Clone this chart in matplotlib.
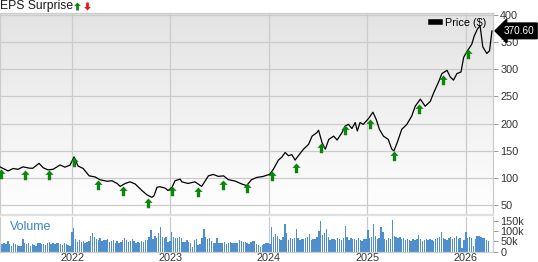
import numpy as np
import pandas as pd
import matplotlib
matplotlib.use("Agg")
import matplotlib.pyplot as plt
import matplotlib.dates as mdates
from matplotlib.colors import LinearSegmentedColormap
from matplotlib.lines import Line2D
from matplotlib.path import Path
from matplotlib.transforms import blended_transform_factory

plt.rcParams['font.family'] = ['Liberation Sans', 'DejaVu Sans']

# price line
price_dates = [
    "2021-04-08", "2021-05-08", "2021-05-27", "2021-06-14", "2021-07-02", "2021-07-28",
    "2021-08-08", "2021-08-31", "2021-09-15", "2021-10-03", "2021-10-22", "2021-11-17",
    "2021-12-05", "2021-12-24", "2022-01-08", "2022-01-23", "2022-02-11", "2022-03-05",
    "2022-03-27", "2022-04-15", "2022-05-11", "2022-05-29", "2022-06-17", "2022-06-28",
    "2022-07-17", "2022-08-04", "2022-08-23", "2022-09-17", "2022-10-06", "2022-10-24",
    "2022-11-01", "2022-11-12", "2022-11-23", "2022-12-12", "2022-12-23", "2023-01-07",
    "2023-01-18", "2023-02-06", "2023-02-12", "2023-03-07", "2023-04-02", "2023-04-27",
    "2023-05-22", "2023-06-09", "2023-06-28", "2023-07-17", "2023-08-04", "2023-08-29",
    "2023-09-23", "2023-10-11", "2023-10-29", "2023-11-17", "2023-12-12", "2024-01-05",
    "2024-01-18", "2024-02-06", "2024-02-18", "2024-03-02", "2024-03-14", "2024-03-27",
    "2024-04-08", "2024-04-20", "2024-05-09", "2024-05-28", "2024-06-10", "2024-06-28",
    "2024-07-04", "2024-07-17", "2024-07-29", "2024-08-11", "2024-08-29", "2024-09-11",
    "2024-09-29", "2024-10-11", "2024-10-23", "2024-11-05", "2024-11-17", "2024-11-25",
    "2024-12-05", "2024-12-17", "2025-01-05", "2025-01-22", "2025-02-03", "2025-02-15",
    "2025-03-02", "2025-03-20", "2025-04-02", "2025-04-10", "2025-04-22", "2025-05-09",
    "2025-05-28", "2025-06-15", "2025-06-28", "2025-07-17", "2025-08-04", "2025-08-23",
    "2025-09-04", "2025-09-23", "2025-10-05", "2025-10-24", "2025-11-05", "2025-11-17",
    "2025-11-30", "2025-12-15", "2025-12-25", "2026-01-08", "2026-01-24", "2026-02-02",
    "2026-02-14", "2026-02-24", "2026-03-06", "2026-03-21", "2026-03-31", "2026-04-09",
]
price_vals = [
    120.5, 113, 117.5, 116, 120.5, 118,
    118, 127, 119, 115, 116, 124,
    120, 123.6, 139, 122, 117.5, 104,
    102, 96.7, 94, 95, 90, 84.6,
    90, 93, 89, 77, 69, 64.5,
    67.4, 83, 84, 81.5, 77, 83,
    95, 98, 93, 90, 93, 84.6,
    104, 106.6, 103, 104, 97, 94.4,
    89, 86, 97, 101, 103, 107,
    116, 133, 138, 147, 141, 143,
    133, 141, 153, 162, 177, 183.5,
    188, 165, 153, 171, 177, 170,
    183.5, 195.6, 198.7, 191, 202, 186.5,
    202, 198.7, 209, 221, 208, 189.5,
    177, 171, 153, 150, 165, 189.5,
    198.7, 214, 232, 245, 232, 241,
    256, 277, 292, 298, 286, 280,
    292, 295, 322, 334, 346, 361,
    374, 380, 341, 329, 334, 370.6,
]
last_price = 370.60

# quarterly EPS beats (green up arrows), tip value
eps_dates = [
    "2021-04-12", "2021-07-10", "2021-10-07", "2022-01-08", "2022-04-07",
    "2022-07-08", "2022-10-10", "2023-01-07", "2023-04-13", "2023-07-15",
    "2023-10-12", "2024-01-13", "2024-04-12", "2024-07-14", "2024-10-11",
    "2025-01-12", "2025-04-10", "2025-07-13", "2025-10-10", "2026-01-11",
]
eps_tip = [117, 114, 114, 139, 97, 85, 63, 86, 84, 97,
           90, 113, 127, 164, 198, 209, 150, 236, 290, 337]

# weekly volume (thousands)
vol_2021 = [40, 35, 42, 38, 50, 36, 30, 44, 38, 34, 30, 28, 62, 40, 36, 42, 30, 38, 34,
            30, 44, 40, 36, 38, 32, 40, 46, 38, 42, 36, 44, 40, 36, 34, 42, 38, 32, 30]
vol_2022 = [95, 115, 60, 48, 55, 45, 50, 40, 45, 52, 78, 92, 70, 62, 55, 66, 50, 58, 56,
            60, 48, 52, 58, 44, 52, 40, 48, 55, 66, 58, 46, 52, 60, 50, 42, 48, 40, 52,
            46, 55, 58, 72, 105, 60, 75, 65, 90, 120, 70, 68, 72, 48]
vol_2023 = [50, 95, 72, 68, 64, 70, 66, 46, 45, 58, 45, 40, 25, 55, 60, 32, 35, 66, 112,
            70, 60, 68, 50, 44, 42, 66, 40, 42, 42, 45, 38, 42, 46, 40, 44, 42, 44, 55,
            50, 48, 48, 40, 36, 46, 54, 52, 38, 34, 25, 32, 36, 40]
vol_2024 = [40, 38, 118, 72, 86, 74, 60, 58, 70, 134, 92, 56, 66, 60, 64, 110, 68, 58,
            60, 62, 66, 70, 88, 57, 62, 60, 72, 99, 147, 80, 92, 112, 70, 55, 60, 62, 58,
            66, 60, 56, 64, 125, 70, 58, 66, 62, 60, 56, 64, 58, 54, 60]
vol_2025 = [60, 104, 66, 70, 136, 78, 60, 64, 118, 96, 62, 58, 64, 60, 152, 76, 72, 68,
            70, 62, 66, 56, 60, 58, 54, 62, 58, 60, 80, 62, 54, 58, 60, 56, 62, 58, 54,
            60, 64, 70, 97, 66, 62, 58, 64, 70, 62, 66, 74, 60, 64, 18]
vol_2026 = [58, 96, 66, 70, 64, 30, 60, 74, 76, 72, 68, 64, 58, 50]
volume = vol_2021 + vol_2022 + vol_2023 + vol_2024 + vol_2025 + vol_2026
vol_dates = pd.date_range("2021-04-09", periods=len(volume), freq="7D")

years = ["2022", "2023", "2024", "2025", "2026"]

px = pd.to_datetime(price_dates)
ex = pd.to_datetime(eps_dates)
year_ticks = pd.to_datetime([y + "-01-01" for y in years])
x0, x1 = pd.Timestamp("2021-04-08"), pd.Timestamp("2026-04-11")

grid_c = "#cbcbcb"
text_c = "#333333"

fig = plt.figure(figsize=(5.38, 2.62), dpi=100)
W, H = 538.0, 262.0
ax = fig.add_axes([0, (H - 215) / H, 492.5 / W, (215 - 12.7) / H])
axv = fig.add_axes([0, (H - 251.7) / H, 492.5 / W, (251.7 - 217) / H])

# grey-to-white background
grad = LinearSegmentedColormap.from_list("bg", ["#ffffff", "#e3e3e3"])
ax.imshow(np.linspace(0, 1, 256).reshape(-1, 1), cmap=grad, origin="lower",
          extent=[0, 1, 0, 1], transform=ax.transAxes, aspect="auto", zorder=0)

ax.plot(px, price_vals, color="black", lw=0.9, zorder=3)

# arrow marker with its tip at the origin
up = Path([(0, 0), (0.42, -0.45), (0.17, -0.45), (0.17, -1), (-0.17, -1),
           (-0.17, -0.45), (-0.42, -0.45), (0, 0)])
down = Path([(x, -y) for x, y in up.vertices])
ax.plot(ex, eps_tip, ls="none", marker=up, ms=14, color="#0a870a",
        markeredgewidth=0, zorder=4)

ax.set_xlim(x0, x1)
ax.set_ylim(32, 404)
ax.set_yticks([50, 100, 150, 200, 250, 300, 350, 400])
ax.set_xticks(year_ticks)
ax.grid(True, color=grid_c, lw=0.9)
ax.set_axisbelow(True)
ax.yaxis.tick_right()
ax.tick_params(axis="y", length=3.5, width=0.7, color="#999999", pad=2,
               labelsize=7.8, labelcolor=text_c)
ax.tick_params(axis="x", length=0, labelbottom=False)
for s in ax.spines.values():
    s.set_color(grid_c)
    s.set_linewidth(0.9)
ax.spines["bottom"].set_color("#e0e0e0")
ax.spines["bottom"].set_linewidth(1.6)

# legend and last price tag
h = Line2D([], [], color="black", lw=4)
ax.legend([h], ["Price ($)"], loc="upper right", bbox_to_anchor=(0.988, 0.975),
          frameon=False, fontsize=7.8, handlelength=0.8, handletextpad=0.5,
          borderpad=0, borderaxespad=0)
tr = blended_transform_factory(ax.transAxes, ax.transData)
ax.text(1.0225, last_price, f"{last_price:.2f}", transform=tr, color="white",
        fontsize=7.2, va="center", ha="left", clip_on=False,
        bbox=dict(boxstyle="larrow,pad=0.28", fc="black", ec="black"))

# volume panel
axv.bar(vol_dates, np.array(volume) * 1000, width=5.2, color="#4f8fd0", lw=0)
axv.set_xlim(x0, x1)
axv.set_ylim(0, 168000)
axv.set_yticks([0, 50000, 100000, 150000])
axv.set_yticklabels(["0", "50k", "100k", "150k"])
axv.yaxis.tick_right()
axv.set_xticks(year_ticks)
axv.xaxis.set_major_formatter(mdates.DateFormatter("%Y"))
axv.grid(True, axis="x", color=grid_c, lw=0.9)
axv.set_axisbelow(True)
axv.tick_params(axis="y", length=3.5, width=0.7, color="#999999", pad=2,
                labelsize=7.8, labelcolor=text_c)
axv.tick_params(axis="x", length=0, pad=0.8, labelsize=7.8, labelcolor=text_c)
for s in axv.spines.values():
    s.set_color(grid_c)
    s.set_linewidth(0.9)
axv.spines["top"].set_visible(False)
axv.text(10 / 492.5, 0.72, "Volume", transform=axv.transAxes, color="#3a86c8",
         fontsize=9, va="center", ha="left")

# header
fig.text(0, 1 - 5.5 / H, "EPS Surprise", fontsize=8.7, color="#1a1a1a",
         va="center", ha="left")
fig.add_artist(Line2D([76.8 / W], [1 - 1.5 / H], ls="none", marker=up, ms=11.5,
                      color="#0a870a", markeredgewidth=0, transform=fig.transFigure))
fig.add_artist(Line2D([86.5 / W], [1 - 9.5 / H], ls="none", marker=down, ms=11.5,
                      color="#e8141a", markeredgewidth=0, transform=fig.transFigure))

fig.savefig("out.png", dpi=100)
